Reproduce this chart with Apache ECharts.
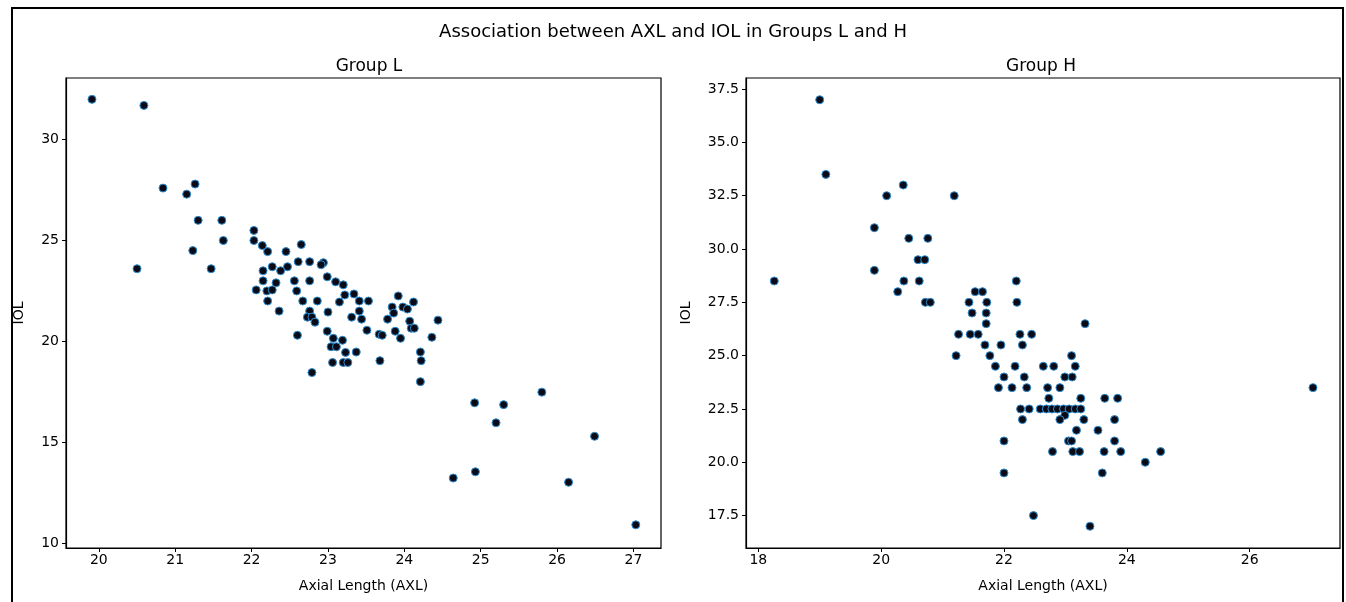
<!DOCTYPE html>
<html>
<head>
<meta charset="utf-8">
<script src="https://cdn.jsdelivr.net/npm/echarts@6/dist/echarts.min.js"></script>
<style>
html,body{margin:0;padding:0;background:#fff;}
#c{width:1346px;height:602px;}
</style>
</head>
<body>
<div id="c"></div>
<script>
// Group L data
const lAxl = [19.91,20.59,20.84,21.15,21.26,21.30,21.61,21.23,20.50,21.63,21.47,
  22.03,22.03,22.14,22.21,22.45,22.65,22.61,22.76,22.94,22.91,22.15,22.27,22.38,22.47,
  22.15,22.32,22.06,22.20,22.27,22.56,22.76,22.59,22.99,23.10,23.20,23.22,22.21,22.36,
  22.67,22.86,23.15,22.76,23.00,22.73,22.79,22.83,22.60,22.99,23.07,23.04,23.11,23.19,
  23.23,23.06,23.20,22.79,23.34,23.41,23.53,23.41,23.31,23.44,23.51,23.37,23.67,23.71,
  23.68,23.78,23.84,23.86,23.92,23.98,24.04,24.12,23.88,23.95,24.07,24.09,24.13,24.44,
  24.36,24.21,24.22,24.21,24.92,25.30,25.20,25.80,26.49,24.64,24.93,26.15,27.03,23.26];
const lIol = [32.0,31.7,27.6,27.3,27.8,26.0,26.0,24.5,23.6,25.0,23.6,
  25.5,25.0,24.75,24.45,24.45,24.8,23.95,23.95,23.9,23.8,23.5,23.7,23.5,23.7,
  23.0,22.9,22.55,22.5,22.55,23.0,23.0,22.5,23.2,22.95,22.8,22.3,22.0,21.5,
  22.0,22.0,21.95,21.5,21.45,21.2,21.2,20.95,20.3,20.5,20.15,19.73,19.73,20.05,
  19.45,18.95,18.95,18.45,22.35,22.0,22.0,21.5,21.2,21.1,20.55,19.47,20.35,20.3,
  19.04,21.1,21.7,21.4,22.25,21.7,21.6,21.95,20.5,20.15,21.0,20.65,20.65,21.05,
  20.2,19.47,19.04,18.0,16.95,16.86,15.96,17.48,15.29,13.22,13.53,13.01,10.9,18.95];

// Group H data
const hAxl = [19.0,19.1,20.36,20.09,21.19,19.89,20.45,20.76,20.6,20.71,19.89,20.37,20.62,
  18.26,20.27,20.72,20.8,21.53,21.65,22.2,21.43,21.72,22.21,21.48,21.71,21.71,21.26,
  21.45,21.58,22.26,22.45,21.69,21.95,22.3,21.22,21.77,23.1,23.32,21.86,22.18,22.64,
  22.81,23.16,22.0,22.33,22.99,23.11,21.91,22.13,22.37,22.71,22.91,22.73,23.25,23.64,
  23.85,22.27,22.41,22.59,22.69,22.78,22.87,22.97,23.06,23.16,23.25,22.99,22.3,22.91,
  23.3,23.8,23.18,23.53,22.0,23.05,23.1,23.8,22.79,23.12,23.23,23.63,23.9,24.55,24.3,
  22.0,23.6,22.48,23.4,27.03];
const hIol = [37.0,33.5,33.0,32.5,32.5,31.0,30.5,30.5,29.5,29.5,29.0,28.5,28.5,
  28.5,28.0,27.5,27.5,28.0,28.0,28.5,27.5,27.5,27.5,27.0,27.0,26.5,26.0,
  26.0,26.0,26.0,26.0,25.5,25.5,25.5,25.0,25.0,25.0,26.5,24.5,24.5,24.5,
  24.5,24.5,24.0,24.0,24.0,24.0,23.5,23.5,23.5,23.5,23.5,23.0,23.0,23.0,
  23.0,22.5,22.5,22.5,22.5,22.5,22.5,22.5,22.5,22.5,22.5,22.2,22.0,22.0,
  22.0,22.0,21.5,21.5,21.0,21.0,21.0,21.0,20.5,20.5,20.5,20.5,20.5,20.5,20.0,
  19.5,19.5,17.5,17.0,23.5];

// Tick labels
const lXTicks = [20,21,22,23,24,25,26,27];
const lYTicks = [10,15,20,25,30];
const hXTicks = [18,20,22,24,26];
const hYTicks = [17.5,20.0,22.5,25.0,27.5,30.0,32.5,35.0,37.5];

const mainTitle = 'Association between AXL and IOL in Groups L and H';
const subTitles = ['Group L','Group H'];
const xName = 'Axial Length (AXL)';
const yName = 'IOL';

const FONT = 'DejaVu Sans';
const pairs = (a,b) => a.map((v,i)=>[v,b[i]]);

function xAxis(idx, min, max, ticks){
  return {
    type:'value', gridIndex:idx, min:min, max:max,
    name:xName, nameLocation:'middle', nameGap:31,
    nameTextStyle:{fontFamily:FONT,fontSize:14,color:'#000'},
    axisLine:{show:true,onZero:false,lineStyle:{color:'#000',width:1.2}},
    axisTick:{show:true,length:4,lineStyle:{color:'#000'},customValues:ticks},
    axisLabel:{fontFamily:FONT,fontSize:14,color:'#000',margin:5,customValues:ticks,
      formatter:v=>String(v)},
    splitLine:{show:false}
  };
}
function yAxis(idx, min, max, ticks, dec, gap){
  return {
    type:'value', gridIndex:idx, min:min, max:max,
    name:yName, nameLocation:'middle', nameGap:gap, nameRotate:90,
    nameTextStyle:{fontFamily:FONT,fontSize:14,color:'#000'},
    axisLine:{show:true,onZero:false,lineStyle:{color:'#000',width:1.2}},
    axisTick:{show:true,length:4,lineStyle:{color:'#000'},customValues:ticks},
    axisLabel:{fontFamily:FONT,fontSize:14,color:'#000',margin:7,customValues:ticks,
      formatter:v=>Number(v).toFixed(dec)},
    splitLine:{show:false}
  };
}
const marker = {
  symbol:'circle', symbolSize:8,
  itemStyle:{color:'#0b0b18',borderColor:'#2f8fd0',borderWidth:1,opacity:1}
};

const chart = echarts.init(document.getElementById('c'), null, {renderer:'canvas'});
chart.setOption({
  animation:false,
  backgroundColor:'#fff',
  title:[
    {text:mainTitle,left:'center',top:18,textStyle:{fontFamily:FONT,fontSize:18,fontWeight:'normal',color:'#000'}},
    {text:subTitles[0],left:364,top:53,textAlign:'center',textStyle:{fontFamily:FONT,fontSize:17,fontWeight:'normal',color:'#000'}},
    {text:subTitles[1],left:1036,top:53,textAlign:'center',textStyle:{fontFamily:FONT,fontSize:17,fontWeight:'normal',color:'#000'}}
  ],
  grid:[
    {left:66,top:78,width:595,height:470,show:true,borderColor:'#000',borderWidth:1.2,backgroundColor:'transparent'},
    {left:746,top:78,width:594,height:470,show:true,borderColor:'#000',borderWidth:1.2,backgroundColor:'transparent'}
  ],
  xAxis:[xAxis(0,19.57,27.36,lXTicks), xAxis(1,17.80,27.47,hXTicks)],
  yAxis:[yAxis(0,9.75,33.06,lYTicks,0,40), yAxis(1,15.98,38.02,hYTicks,1,53)],
  series:[
    Object.assign({type:'scatter',xAxisIndex:0,yAxisIndex:0,data:pairs(lAxl,lIol)},marker),
    Object.assign({type:'scatter',xAxisIndex:1,yAxisIndex:1,data:pairs(hAxl,hIol)},marker)
  ],
  graphic:[
    {type:'rect',shape:{x:12,y:8,width:1331,height:604},style:{fill:'none',stroke:'#000',lineWidth:2},silent:true}
  ]
});
</script>
</body>
</html>
